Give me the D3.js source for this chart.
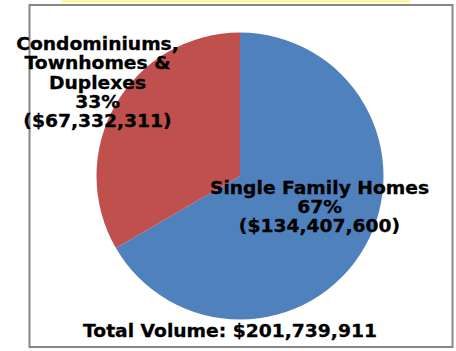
<!DOCTYPE html>
<html>
<head>
<meta charset="utf-8">
<script src="https://cdn.jsdelivr.net/npm/d3@7"></script>
<style>
  html, body { margin: 0; padding: 0; background: #fff; }
  svg { display: block; }
</style>
</head>
<body>
<svg id="chart" width="456" height="351"></svg>
<script>
// Sales volume by property type
const categories = ["Single Family Homes", "Condominiums, Townhomes & Duplexes"];
const volumes = [134407600, 67332311];
const percents = ["67%", "33%"];
const colors = ["#4F81BD", "#C0504D"];
const totalVolume = 201739911;

const svg = d3.select("#chart");
const fmt = d3.format("$,");

// highlight strip above the frame
svg.append("rect").attr("x", 62).attr("y", 0).attr("width", 348).attr("height", 2.5)
  .attr("fill", "#FFF59A");

// chart frame
svg.append("rect").attr("x", 29.5).attr("y", 5).attr("width", 423).attr("height", 342)
  .attr("fill", "#fff").attr("stroke", "#868686").attr("stroke-width", 2);

const cx = 240, cy = 176, r = 143.5;
const pie = d3.pie().sort(null).value(d => d)(volumes);
const arc = d3.arc().innerRadius(0).outerRadius(r);

svg.append("g").attr("transform", `translate(${cx},${cy})`)
  .selectAll("path").data(pie).join("path")
  .attr("d", arc).attr("fill", (d, i) => colors[i]);

// wide, heavy bold labels (Verdana-like proportions)
const font = "'DejaVu Sans', Verdana, sans-serif";
function label(lines, x, y0, step) {
  const g = svg.append("g").attr("transform", `translate(${x},0) scale(1.1,1)`);
  const t = g.append("text").attr("text-anchor", "middle")
    .attr("font-family", font).attr("font-weight", "bold").attr("font-size", 17)
    .attr("fill", "#000").attr("stroke", "#000").attr("stroke-width", 0.3);
  lines.forEach((s, i) => t.append("tspan").attr("x", 0).attr("y", y0 + i * step).text(s));
}

label(["Condominiums,", "Townhomes &", "Duplexes", percents[1], `(${fmt(volumes[1])})`], 97.5, 50, 19.3);
label([categories[0], percents[0], `(${fmt(volumes[0])})`], 319.5, 194.5, 19);
label([`Total Volume: ${fmt(totalVolume)}`], 230, 337, 0);
</script>
</body>
</html>
